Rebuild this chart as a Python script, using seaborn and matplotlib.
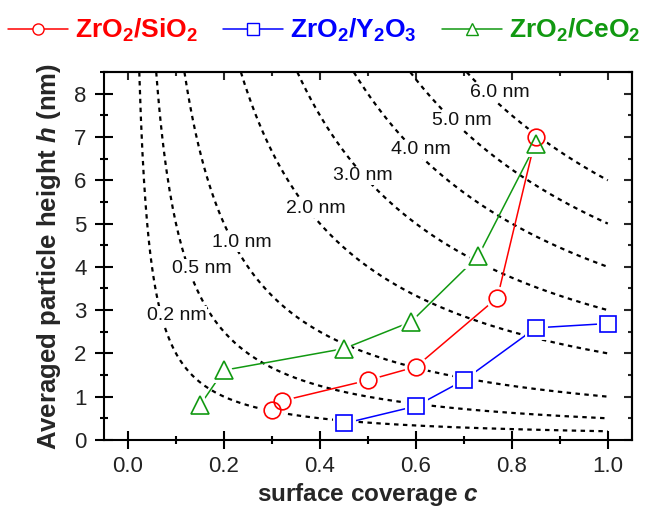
import numpy as np
import pandas as pd
import matplotlib
matplotlib.use("Agg")
import matplotlib.pyplot as plt
from matplotlib.ticker import MultipleLocator
from matplotlib.lines import Line2D
import seaborn as sns

# ---- data ----
sio2_c = [0.30, 0.32, 0.50, 0.60, 0.77, 0.85]
sio2_h = [0.70, 0.90, 1.38, 1.69, 3.29, 7.00]
y2o3_c = [0.45, 0.60, 0.70, 0.85, 1.00]
y2o3_h = [0.38, 0.78, 1.38, 2.59, 2.69]
ceo2_c = [0.15, 0.20, 0.45, 0.59, 0.73, 0.85]
ceo2_h = [0.80, 1.61, 2.11, 2.73, 4.25, 6.84]

thickness = [0.2, 0.5, 1.0, 2.0, 3.0, 4.0, 5.0, 6.0]
thickness_labels = ["0.2 nm", "0.5 nm", "1.0 nm", "2.0 nm", "3.0 nm", "4.0 nm", "5.0 nm", "6.0 nm"]
label_x = [0.039, 0.091, 0.176, 0.329, 0.428, 0.549, 0.633, 0.712]
label_y = [2.87, 3.96, 4.57, 5.35, 6.10, 6.72, 7.39, 8.03]

series_names = [r"ZrO$_\mathbf{2}$/SiO$_\mathbf{2}$",
                r"ZrO$_\mathbf{2}$/Y$_\mathbf{2}$O$_\mathbf{3}$",
                r"ZrO$_\mathbf{2}$/CeO$_\mathbf{2}$"]
colors = ["#ff0000", "#0000ff", "#119911"]
markers = ["o", "s", "^"]
msizes = [12, 12, 13.5]

x_ticks = [0.0, 0.2, 0.4, 0.6, 0.8, 1.0]
y_ticks = [0, 1, 2, 3, 4, 5, 6, 7, 8]

# ---- style ----
sns.set_theme(style="ticks")
plt.rcParams["font.family"] = ["Liberation Sans", "DejaVu Sans"]
plt.rcParams["mathtext.fontset"] = "custom"
plt.rcParams["mathtext.rm"] = "Liberation Sans:bold"
plt.rcParams["mathtext.bf"] = "Liberation Sans:bold"
plt.rcParams["mathtext.it"] = "Liberation Sans:italic:bold"

fig = plt.figure(figsize=(6.5, 5.08), dpi=100)
ax = fig.add_axes([0.16, 0.134, 0.812, 0.724])

# reference curves h = t / c
for t in thickness:
    cc = np.linspace(t / 8.5, 1.0, 300)
    sns.lineplot(x=cc, y=t / cc, ax=ax, color="black", lw=1.6,
                 dashes=False, estimator=None, sort=False, zorder=1,
                 linestyle=(0, (2, 2)))

for t_lab, lx, ly in zip(thickness_labels, label_x, label_y):
    ax.text(lx, ly, t_lab, fontsize=14, ha="left", va="center", color="#111111", zorder=2,
            bbox=dict(boxstyle="square,pad=0.05", fc="white", ec="none"))

data = [(sio2_c, sio2_h), (y2o3_c, y2o3_h), (ceo2_c, ceo2_h)]
for (cx, hy), col, mk, ms in zip(data, colors, markers, msizes):
    sns.lineplot(x=cx, y=hy, ax=ax, color=col, lw=1.1, estimator=None,
                 sort=False, zorder=3)
    sns.lineplot(x=cx, y=hy, ax=ax, color=col, linestyle="", marker=mk,
                 ms=ms, mfc="white", mec="white", mew=5, estimator=None,
                 sort=False, zorder=4)
    sns.lineplot(x=cx, y=hy, ax=ax, color=col, linestyle="", marker=mk,
                 ms=ms, mfc="none", mec=col, mew=1.2, estimator=None,
                 sort=False, zorder=5)

ax.set_xlim(-0.05, 1.05)
ax.set_ylim(0, 8.5)
ax.set_xticks(x_ticks)
ax.set_xticklabels([f"{v:.1f}" for v in x_ticks])
ax.set_yticks(y_ticks)
ax.set_yticklabels([str(v) for v in y_ticks])
ax.xaxis.set_minor_locator(MultipleLocator(0.1))
ax.yaxis.set_minor_locator(MultipleLocator(0.5))

for sp in ax.spines.values():
    sp.set_linewidth(1.5)
    sp.set_color("black")

ax.tick_params(which="both", direction="inout", top=False, right=False,
               colors="black", width=1.5, labelsize=16, labelcolor="#222222")
ax.tick_params(which="major", length=13, pad=5)
ax.tick_params(axis="y", which="major", pad=6)
ax.tick_params(which="minor", length=6)

secx = ax.secondary_xaxis("top")
secx.set_xticks(x_ticks)
secx.xaxis.set_minor_locator(MultipleLocator(0.1))
secx.tick_params(which="both", direction="in", labeltop=False, width=1.5)
secx.tick_params(which="major", length=5.5)
secx.tick_params(which="minor", length=3)
secx.spines["top"].set_linewidth(1.5)

secy = ax.secondary_yaxis("right")
secy.set_yticks(y_ticks)
secy.yaxis.set_minor_locator(MultipleLocator(0.5))
secy.tick_params(which="both", direction="in", labelright=False, width=1.5)
secy.tick_params(which="major", length=5.5)
secy.tick_params(which="minor", length=3)
secy.spines["right"].set_linewidth(1.5)

ax.set_xlabel(r"surface coverage $c$", fontsize=17.5, fontweight="bold", labelpad=3)
ax.set_ylabel(r"Averaged particle height $h$ (nm)", fontsize=18.5, fontweight="bold", labelpad=8)

handles = [Line2D([0], [0], color=col, lw=1.1, marker=mk, ms=8, mfc="white", mec=col, mew=1.0)
           for col, mk in zip(colors, markers)]
leg = fig.legend(handles, series_names, loc="center left", bbox_to_anchor=(0.012, 0.94),
                 ncol=3, frameon=False, handlelength=2.3, handletextpad=0.25,
                 columnspacing=0.95, borderaxespad=0, borderpad=0,
                 prop={"weight": "bold", "size": 19})
for txt, col in zip(leg.get_texts(), colors):
    txt.set_color(col)

fig.savefig("out.png", dpi=100)
